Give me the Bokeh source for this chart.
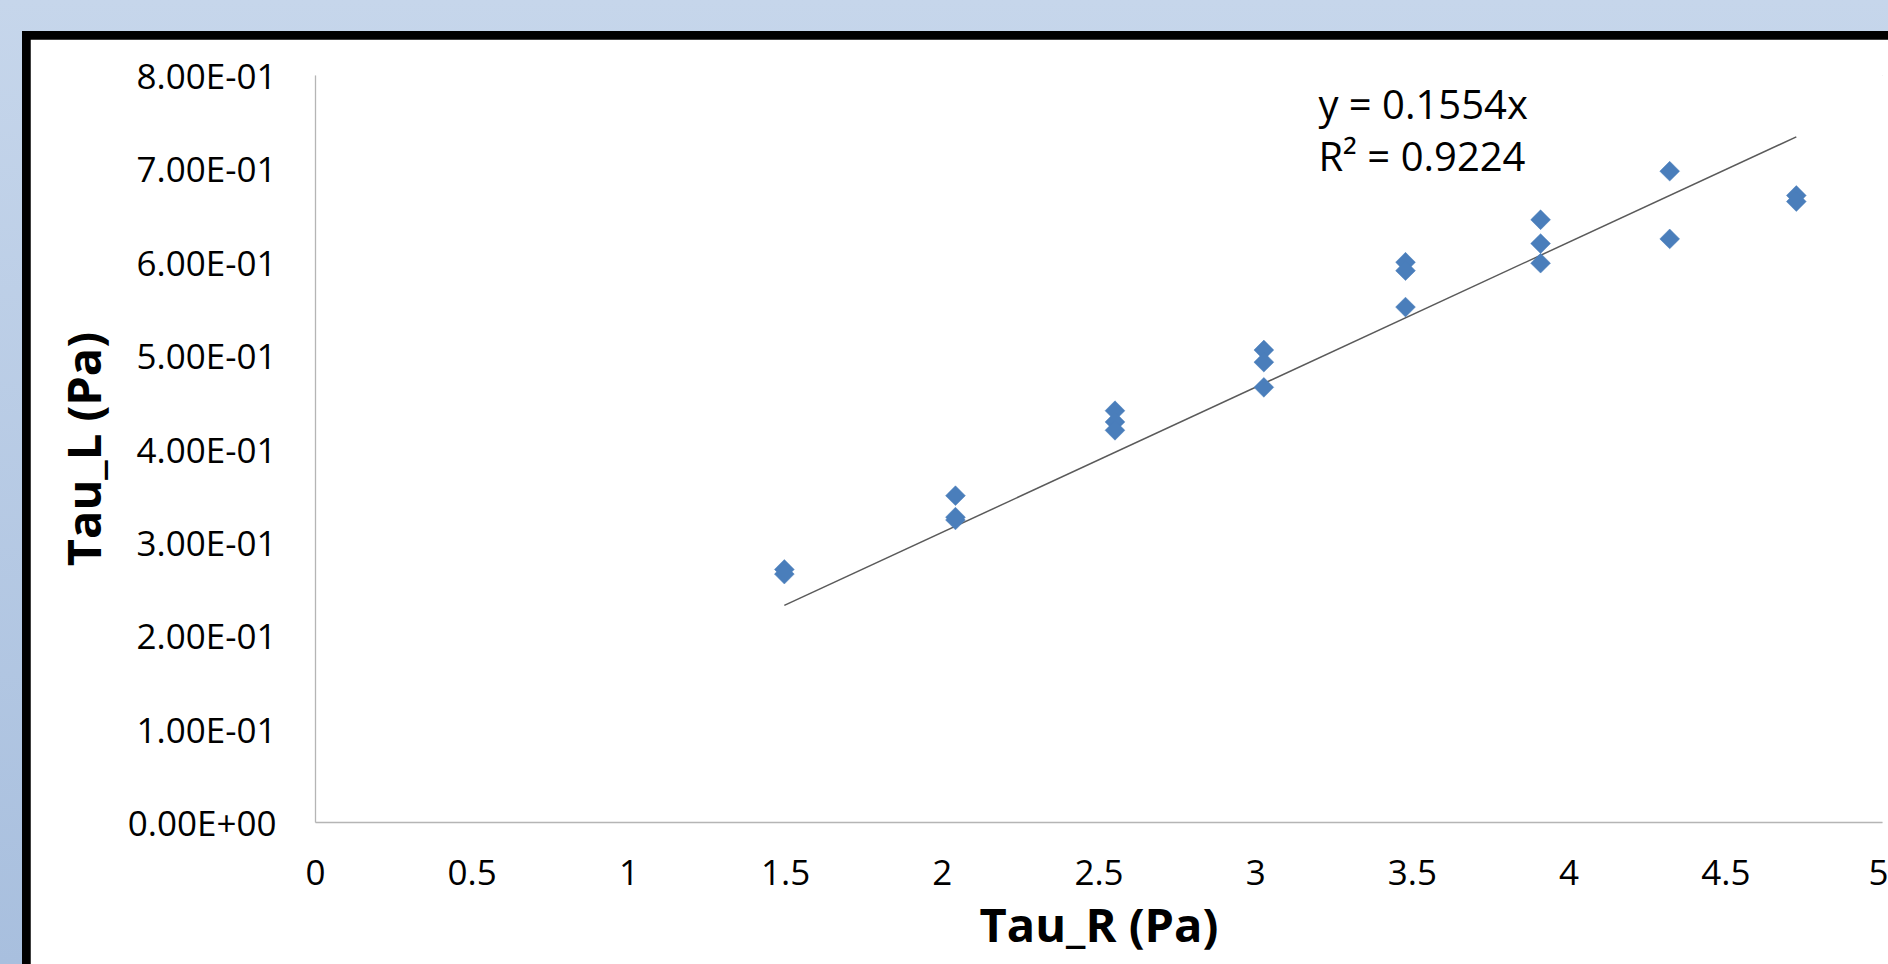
import math
from bokeh.plotting import figure
from bokeh.models import Range1d, FixedTicker, CustomJSTickFormatter, Label, ColumnDataSource
from bokeh.layouts import column
from bokeh.embed import file_html
from bokeh.resources import INLINE

# ---- data ----
tau_r = [1.496, 1.496,
         2.042, 2.042, 2.042,
         2.551, 2.551, 2.551,
         3.026, 3.026, 3.026,
         3.478, 3.478, 3.478,
         3.909, 3.909, 3.909,
         4.321, 4.321,
         4.725, 4.725]
tau_l = [0.271, 0.266,
         0.350, 0.327, 0.324,
         0.441, 0.429, 0.420,
         0.506, 0.493, 0.466,
         0.600, 0.591, 0.552,
         0.6455, 0.620, 0.599,
         0.6975, 0.625,
         0.6715, 0.665]

trend_slope = 0.1554
eq_text = "y = 0.1554x"
r2_text = "R\u00b2 = 0.9224"

x_ticks = [0, 0.5, 1, 1.5, 2, 2.5, 3, 3.5, 4, 4.5, 5]
x_tick_labels = ["0", "0.5", "1", "1.5", "2", "2.5", "3", "3.5", "4", "4.5", "5"]
y_ticks = [0, 0.1, 0.2, 0.3, 0.4, 0.5, 0.6, 0.7, 0.8]
y_tick_labels = ["0.00E+00", "1.00E-01", "2.00E-01", "3.00E-01", "4.00E-01",
                 "5.00E-01", "6.00E-01", "7.00E-01", "8.00E-01"]

x_title = "Tau_R (Pa)"
y_title = "Tau_L (Pa)"

FONT = "Open Sans"

p = figure(width=1858, height=963,
           x_range=Range1d(0, 5), y_range=Range1d(0, 0.8),
           output_backend="svg", toolbar_location=None,
           min_border_left=285, min_border_right=6,
           min_border_top=36, min_border_bottom=180)
p.margin = (8, 0, 0, 8)
p.background_fill_color = "white"
p.border_fill_color = "white"
p.outline_line_color = "white"
p.outline_line_width = 1
p.grid.visible = False

# trend line (linear through origin) spanning the data
x0, x1 = min(tau_r), max(tau_r)
p.line([x0, x1], [trend_slope * x0, trend_slope * x1], line_color="#5a5a5a", line_width=1.5)

src = ColumnDataSource(dict(x=tau_r, y=tau_l))
p.scatter("x", "y", source=src, marker="square", size=14, angle=math.pi / 4,
          fill_color="#4A7EBB", line_color="#4A7EBB", line_width=0.5)

def fmt(vals, labs):
    return CustomJSTickFormatter(args=dict(vals=vals, labs=labs), code="""
        let best = 0;
        for (let i = 0; i < vals.length; i++) {
            if (Math.abs(vals[i] - tick) < Math.abs(vals[best] - tick)) best = i;
        }
        return labs[best];
    """)

for ax in (p.xaxis[0], p.yaxis[0]):
    ax.axis_line_color = "#B5B5B5"
    ax.axis_line_width = 1.3
    ax.major_tick_line_color = None
    ax.minor_tick_line_color = None
    ax.major_tick_out = 0
    ax.major_tick_in = 0
    ax.minor_tick_out = 0
    ax.minor_tick_in = 0
    ax.major_label_text_font = FONT
    ax.major_label_text_font_size = "35px"
    ax.major_label_text_color = "black"
    ax.axis_label_text_font = FONT
    ax.axis_label_text_font_style = "bold"
    ax.axis_label_text_font_size = "47px"
    ax.axis_label_text_color = "black"

p.xaxis[0].ticker = FixedTicker(ticks=x_ticks)
p.xaxis[0].formatter = fmt(x_ticks, x_tick_labels)
p.xaxis[0].major_label_standoff = 37
p.xaxis[0].axis_label = x_title
p.xaxis[0].axis_label_standoff = 4

p.yaxis[0].ticker = FixedTicker(ticks=y_ticks)
p.yaxis[0].formatter = fmt(y_ticks, y_tick_labels)
p.yaxis[0].major_label_standoff = 39
p.yaxis[0].axis_label = y_title
p.yaxis[0].axis_label_standoff = 10

p.add_layout(Label(x=3.20, y=0.7695, text=eq_text, text_font=FONT, text_font_size="40px",
                   text_color="black", text_baseline="alphabetic"))
p.add_layout(Label(x=3.20, y=0.714, text=r2_text, text_font=FONT, text_font_size="40px",
                   text_color="black", text_baseline="alphabetic"))

inner = column(p, margin=(31, 0, 0, 22), styles={"background-color": "black"})
page = column(inner, width=1888, height=964,
              styles={"background": "linear-gradient(to bottom, #C6D6EB 0%, #A8BFDE 100%)",
                      "overflow": "hidden"})

open("out.html", "w").write(file_html(page, INLINE))
